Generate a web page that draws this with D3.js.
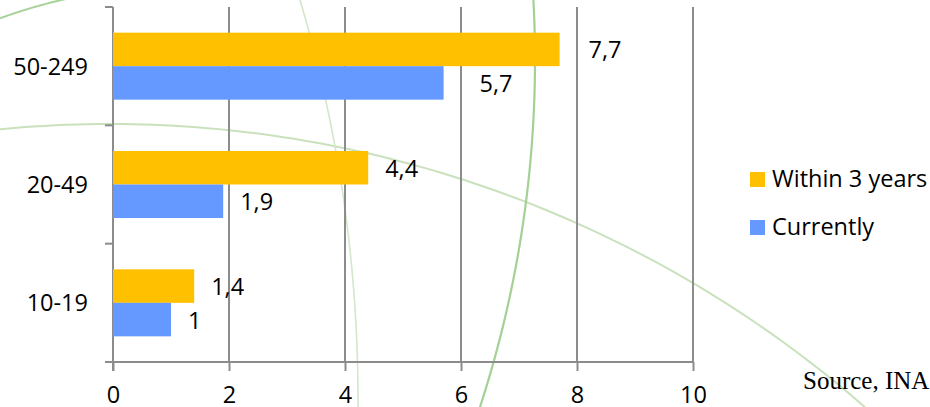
<!DOCTYPE html>
<html><head><meta charset="utf-8">
<script src="https://cdn.jsdelivr.net/npm/d3@7"></script>
<style>body{margin:0;background:#fff;overflow:hidden}</style>
</head><body><svg id="c" width="930" height="407"></svg>
<script>
// ---- data ----
const categories = ["50-249", "20-49", "10-19"];
const seriesNames = ["Within 3 years", "Currently"];
const within3Years = [7.7, 4.4, 1.4];
const currently = [5.7, 1.9, 1.0];
const xTicks = [0, 2, 4, 6, 8, 10];
const within3YearsLabels = ["7,7", "4,4", "1,4"];
const currentlyLabels = ["5,7", "1,9", "1"];
const sourceText = "Source, INA";

// ---- styles / layout ----
const colors = ["#FFC000", "#6699FF"];
const gridColor = "#8c8c8c";
const font = "'Open Sans', sans-serif";
const fs = 23.5;
const m = {left: 113, right: 693, top: 7, bottom: 362};
const labelGap = 17;
const extraLabelGap = {"50-249": [12, 19]};

const svg = d3.select("#c");
svg.append("rect").attr("width", 930).attr("height", 407).attr("fill", "#fff");

// decorative background arcs (segments of large circles)
const deco = svg.append("g").attr("fill", "none");
const arcs = [
  {cx: 110, cy: 1272, r: 1148, a0: -Math.PI / 2 - 0.2, a1: -Math.PI / 2 + 0.75, stroke: "#c9e1bd", w: 2},
  {cx: 535 - 1122, cy: 60, r: 1122, a0: -0.1, a1: 0.35, stroke: "#a3d194", w: 2.2},
  {cx: -1050, cy: 400, r: 1408, a0: -0.35, a1: 0.02, stroke: "#d3e7ca", w: 1.6},
  {cx: 183, cy: 521, r: 535, a0: -1.95, a1: -1.75, stroke: "#a9d39a", w: 2}
];
const arcLine = d3.line();
arcs.forEach(a => {
  const pts = d3.range(0, 101).map(i => {
    const t = a.a0 + (a.a1 - a.a0) * i / 100;
    return [a.cx + a.r * Math.cos(t), a.cy + a.r * Math.sin(t)];
  });
  deco.append("path").attr("d", arcLine(pts)).attr("stroke", a.stroke).attr("stroke-width", a.w);
});

const x = d3.scaleLinear().domain([0, 10]).range([m.left, m.right]);
const y0 = d3.scaleBand().domain(categories).range([m.top, m.bottom]);
const y1 = d3.scaleBand().domain(seriesNames).range([0, y0.bandwidth()]).paddingInner(0).paddingOuter(0.766);

// gridlines
svg.append("g").selectAll("line").data(xTicks.filter(t => t > 0)).join("line")
  .attr("x1", d => x(d)).attr("x2", d => x(d))
  .attr("y1", m.top).attr("y2", m.bottom)
  .attr("stroke", gridColor).attr("stroke-width", 2);

// x axis
const xAxis = d3.axisBottom(x).tickValues(xTicks).tickSize(9).tickPadding(15).tickFormat(d3.format("d"));
const gx = svg.append("g").attr("transform", `translate(0,${m.bottom})`).call(xAxis);
gx.select(".domain").remove();
gx.append("line").attr("x1", m.left - 8).attr("x2", m.right).attr("stroke", gridColor).attr("stroke-width", 2);
gx.selectAll(".tick line").attr("stroke", gridColor).attr("stroke-width", 2);
gx.selectAll(".tick text").attr("font-family", font).attr("font-size", fs).attr("fill", "#000");

// y axis
const gy = svg.append("g");
gy.append("line").attr("x1", m.left).attr("x2", m.left).attr("y1", m.top).attr("y2", m.bottom + 9)
  .attr("stroke", gridColor).attr("stroke-width", 2);
const bounds = categories.map(c => y0(c)).concat([m.bottom]);
gy.selectAll("line.t").data(bounds).join("line").attr("class", "t")
  .attr("x1", m.left - 8).attr("x2", m.left).attr("y1", d => d).attr("y2", d => d)
  .attr("stroke", gridColor).attr("stroke-width", 2);
gy.selectAll("text").data(categories).join("text")
  .attr("x", m.left - 25).attr("y", d => y0(d) + y0.bandwidth() / 2 + 8.4)
  .attr("text-anchor", "end").attr("font-family", font).attr("font-size", fs).attr("fill", "#000")
  .text(d => d);

// bars
const seriesValues = [within3Years, currently];
const seriesLabels = [within3YearsLabels, currentlyLabels];
seriesNames.forEach((s, si) => {
  const g = svg.append("g");
  const rows = categories.map((c, i) => ({c, v: seriesValues[si][i], l: seriesLabels[si][i]}));
  g.selectAll("rect").data(rows).join("rect")
    .attr("x", x(0)).attr("y", d => y0(d.c) + y1(s))
    .attr("width", d => x(d.v) - x(0)).attr("height", y1.bandwidth())
    .attr("fill", colors[si]);
  g.selectAll("text").data(rows).join("text")
    .attr("x", d => x(d.v) + labelGap + (extraLabelGap[d.c] ? extraLabelGap[d.c][si] : 0))
    .attr("y", d => y0(d.c) + y1(s) + y1.bandwidth() / 2 + 9)
    .attr("font-family", font).attr("font-size", fs).attr("fill", "#000")
    .text(d => d.l);
});

// legend
const lg = svg.append("g").attr("transform", "translate(750,172)");
seriesNames.forEach((s, i) => {
  lg.append("rect").attr("x", 0).attr("y", i * 48).attr("width", 15).attr("height", 15).attr("fill", colors[i]);
  lg.append("text").attr("x", 22).attr("y", i * 48 + 15).attr("font-family", font).attr("font-size", fs)
    .attr("fill", "#000").text(s);
});

// source
svg.append("text").attr("x", 803).attr("y", 389).attr("font-family", "'Liberation Serif', serif")
  .attr("font-size", 25).attr("fill", "#000").text(sourceText);
</script></body></html>
